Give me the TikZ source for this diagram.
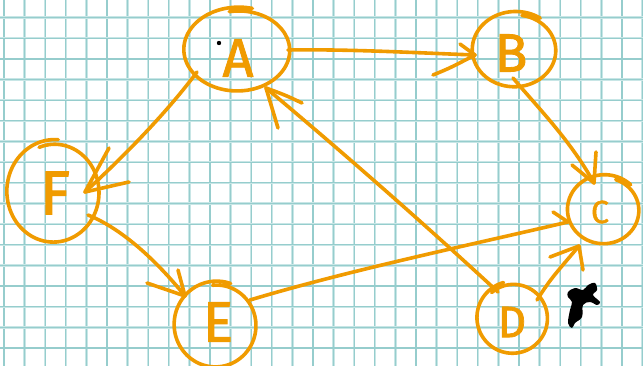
\documentclass[tikz,border=0pt]{standalone}
\usepackage{fontspec}
\setmainfont{Fira Sans}
\newfontfamily\handletters{Fira Sans}[FakeBold=1.6]
\definecolor{inkorange}{RGB}{240,155,0}
\definecolor{gridcore}{RGB}{150,205,205}
\definecolor{gridhalo}{RGB}{200,230,230}
% hand-drawn ring: centre x, centre y, radius x, radius y, start angle
\newcommand{\handring}[5]{%
  \draw[ink] plot[smooth, domain=#5:#5+385, samples=48, variable=\t]
    ({#1+#3*(0.95+0.1*(\t-#5)/385)*cos(\t)},
     {#2+#4*(0.95+0.1*(\t-#5)/385)*sin(\t)});}
\begin{document}
\begin{tikzpicture}[x=1pt,y=-1pt,
  ink/.style={draw=inkorange, line width=3.6pt, line cap=round, line join=round},
  barb/.style={ink},
  letter/.style={text=inkorange, inner sep=0pt},
  paperline/.style={gridcore, line width=1.2pt},
  paperhalo/.style={gridhalo, line width=2.3pt}]
\useasboundingbox (0,0) rectangle (643,366);
\fill[white] (0,0) rectangle (643,366);

% squared paper, one square every 20.6pt
\foreach \i in {0,...,31} {
  \draw[paperhalo] ({4+20.6*\i},0) -- ({4+20.6*\i},366);
  \draw[paperline] ({4+20.6*\i},0) -- ({4+20.6*\i},366);
}
\foreach \j in {1,...,18} {
  \draw[paperhalo] (0,{-3+20.65*\j}) -- (643,{-3+20.65*\j});
  \draw[paperline] (0,{-3+20.65*\j}) -- (643,{-3+20.65*\j});
}

% vertices
\node[letter, font=\handletters\fontsize{54}{54}\selectfont] (A) at (238,58) {A};
\node[letter, font=\handletters\fontsize{54}{54}\selectfont] (B) at (511,53) {B};
\node[letter, font=\handletters\fontsize{32}{32}\selectfont] (C) at (600,212) {C};
\node[letter, font=\handletters\fontsize{44}{44}\selectfont] (D) at (512,322) {D};
\node[letter, font=\handletters\fontsize{57}{57}\selectfont] (E) at (218,322) {E};
\node[letter, font=\handletters\fontsize{62}{62}\selectfont] (F) at (55,193) {F};

\handring{238}{50}{53}{41}{-100}
\handring{515}{50}{42}{37}{-80}
\handring{604}{210}{36}{34}{-70}
\handring{513}{318}{35}{35}{-130}
\handring{216}{325}{41}{42}{-95}
\handring{54}{192}{46}{50}{-110}

% ink spot next to A
\fill[black] (219,43) circle (2.2);

% connector end points
\coordinate (a1) at (288,50);  \coordinate (tB) at (475,55);
\coordinate (b1) at (513,78);  \coordinate (tCb) at (594,183);
\coordinate (a2) at (197,72);  \coordinate (tF) at (85,192);
\coordinate (f1) at (88,215);  \coordinate (tE) at (185,296);
\coordinate (e1) at (250,300); \coordinate (tCe) at (568,222);
\coordinate (d1) at (537,300); \coordinate (tCd) at (579,246);
\coordinate (d2) at (498,292); \coordinate (tA) at (266,88);

% A -> B
\draw[ink] (a1) .. controls (350,49) and (420,53) .. (tB);
\draw[barb] (460,44) -- (tB);
\draw[barb] (433,75) .. controls (450,68) .. (tB);
% B -> C
\draw[ink] (b1) .. controls (540,110) and (570,140) .. (tCb);
\draw[barb] (596,152) -- (tCb);
\draw[barb] (572,165) -- (tCb);
% A -> F
\draw[ink] (a2) .. controls (165,115) and (120,160) .. (tF);
\draw[barb] (109,148) -- (tF);
\draw[barb] (129,182) -- (tF);
% F -> E
\draw[ink] (f1) .. controls (125,230) and (160,265) .. (tE);
\draw[barb] (147,283) -- (tE);
\draw[barb] (178,270) -- (tE);
% E -> C
\draw[ink] (e1) .. controls (350,270) and (470,245) .. (tCe);
\draw[barb] (553,212) -- (tCe);
% D -> C
\draw[ink] (d1) .. controls (550,280) .. (tCd);
\draw[barb] (550,257) -- (tCd);
\draw[barb] (583,270) -- (tCd);
% D -> A
\draw[ink] (d2) .. controls (420,220) and (340,150) .. (tA);
\draw[barb] (302,103) .. controls (285,95) .. (tA);
\draw[barb] (278,128) -- (tA);

% black blot beside D
\fill[black] plot[smooth cycle, tension=0.6] coordinates {
  (568,292) (575,288) (583,290) (588,285) (595,283) (597,290) (593,295)
  (600,302) (597,305) (590,302) (583,305) (582,317) (575,323) (572,328)
  (568,323) (570,310) (572,302) (568,297)};
\end{tikzpicture}
\end{document}
